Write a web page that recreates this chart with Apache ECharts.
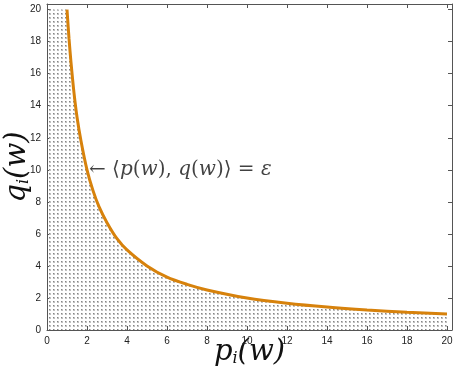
<!DOCTYPE html>
<html>
<head>
<meta charset="utf-8">
<script src="https://cdn.jsdelivr.net/npm/echarts@6/dist/echarts.min.js"></script>
<style>
  html, body { margin: 0; padding: 0; background: #fff; }
  #main { width: 457px; height: 374px; }
</style>
</head>
<body>
<div id="main"></div>
<script>
// values
var pVals = [1, 1.1, 1.2, 1.35, 1.5, 1.7, 2, 2.3, 2.6, 3, 3.5, 4, 5, 6, 7, 8, 10, 12, 14, 16, 18, 20];
var qVals = [20, 18.2, 16.7, 14.8, 13.3, 11.8, 10, 8.7, 7.7, 6.7, 5.7, 5, 4, 3.3, 2.85, 2.5, 2, 1.67, 1.43, 1.25, 1.11, 1];
var xTicks = [0, 2, 4, 6, 8, 10, 12, 14, 16, 18, 20];
var yTicks = [0, 2, 4, 6, 8, 10, 12, 14, 16, 18, 20];
var notePoint = [2.1, 10];

var curve = pVals.map(function (p, i) { return [p, qVals[i]]; });
// fill region: left strip up to the top, then under the curve
var fillData = [[0, 20]].concat(curve);

// dotted fill pattern
var pat = document.createElement("canvas");
pat.width = 4;
pat.height = 4;
var pctx = pat.getContext("2d");
pctx.fillStyle = "#c0c0c0";
pctx.fillRect(1, 1, 2, 2);
pctx.fillStyle = "#858585";
pctx.fillRect(1, 1, 1, 1);

var chart = echarts.init(document.getElementById("main"));
var serif = "DejaVu Serif";
var axisCol = "#555";

function tickFmt(v) {
  return xTicks.indexOf(v) >= 0 ? String(v) : "";
}

function boxAxis(pos, max, labels) {
  return {
    type: "value", min: 0, max: max, interval: 2, position: pos,
    axisLine: { show: true, onZero: false, lineStyle: { color: axisCol, width: 1 } },
    axisTick: { show: true, inside: true, length: 4, lineStyle: { color: axisCol } },
    axisLabel: {
      show: labels, color: "#222", fontSize: 10, fontFamily: "Liberation Sans",
      margin: 6, formatter: tickFmt
    },
    splitLine: { show: false }
  };
}

var nameRich = {
  v: { fontSize: 29, fontFamily: serif, fontStyle: "italic", color: "#111" },
  s: { fontSize: 16, fontFamily: serif, fontStyle: "italic", color: "#111", verticalAlign: "bottom", padding: [14, 0, 0, 0] }
};

chart.setOption({
  animation: false,
  grid: { left: 47, right: 5, top: 4, bottom: 44, containLabel: false, outerBoundsMode: "none" },
  xAxis: [
    Object.assign(boxAxis("bottom", 20.25, true), {
      name: "{v|p}{s|i}{v|(w)}",
      nameLocation: "middle",
      nameGap: 7,
      nameMoveOverlap: false,
      nameTextStyle: { rich: nameRich }
    }),
    boxAxis("top", 20.25, false)
  ],
  yAxis: [
    Object.assign(boxAxis("left", 20.35, true), {
      name: "{v|q}{s|i}{v|(w)}",
      nameLocation: "middle",
      nameGap: 15,
      nameMoveOverlap: false,
      nameTextStyle: { rich: nameRich }
    }),
    boxAxis("right", 20.35, false)
  ],
  series: [
    {
      // dotted area
      type: "line",
      data: fillData,
      smooth: 0.3,
      symbol: "none",
      lineStyle: { width: 0, opacity: 0 },
      areaStyle: { color: { image: pat, repeat: "repeat" }, opacity: 1 },
      z: 1
    },
    {
      type: "line",
      data: curve,
      smooth: 0.3,
      symbol: "none",
      lineStyle: { color: "#d7820c", width: 3 },
      z: 3
    },
    {
      // annotation
      type: "scatter",
      data: [notePoint],
      symbolSize: 0,
      label: {
        show: true,
        position: "right",
        distance: 0,
        formatter: "\u2190 \u27e8{it|p}({it|w}), {it|q}({it|w})\u27e9 = {it|\u03b5}",
        fontFamily: serif,
        fontSize: 20,
        color: "#111",
        rich: {
          it: { fontFamily: serif, fontStyle: "italic", fontSize: 20, color: "#111" }
        }
      },
      z: 4
    }
  ]
});
</script>
</body>
</html>
